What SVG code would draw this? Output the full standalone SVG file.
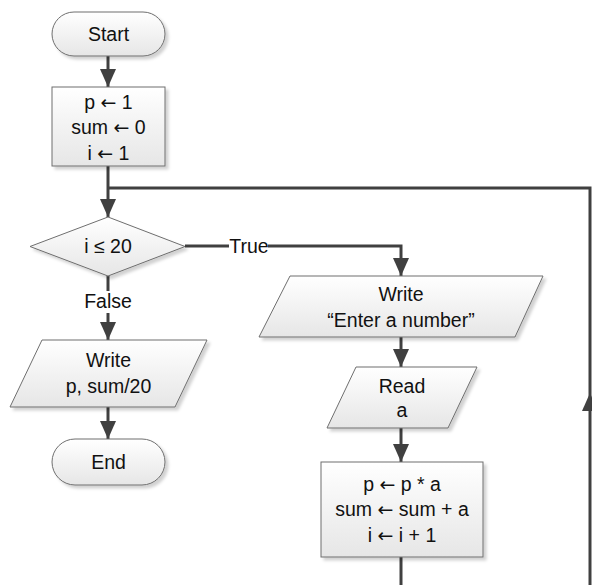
<svg xmlns="http://www.w3.org/2000/svg" width="592" height="585" viewBox="0 0 592 585">
<defs>
<linearGradient id="g" x1="0" y1="0" x2="0" y2="1">
<stop offset="0" stop-color="#ffffff"/>
<stop offset="1" stop-color="#e6e6e6"/>
</linearGradient>
<filter id="sh" x="-10%" y="-10%" width="130%" height="140%">
<feDropShadow dx="3" dy="3" stdDeviation="1.5" flood-color="#000" flood-opacity="0.18"/>
</filter>
<marker id="ah" markerUnits="userSpaceOnUse" markerWidth="18" markerHeight="18" viewBox="0 0 18 16" refX="18" refY="8" orient="auto">
<path d="M0,0 L18,8 L0,16 Z" fill="#404040"/>
</marker>
<style>
.n{fill:url(#g);stroke:#6e6e6e;stroke-width:1;filter:url(#sh)}
.t{font-family:"Liberation Sans",Arial,sans-serif;font-size:19.5px;fill:#111;text-anchor:middle}
.a{font-family:"DejaVu Sans",sans-serif;font-size:19px}
.c{fill:none;stroke:#404040;stroke-width:3}
</style>
</defs>
<g id="connectors">
<line class="c" x1="108" y1="56" x2="108" y2="87" marker-end="url(#ah)"/>
<line class="c" x1="108" y1="166" x2="108" y2="217" marker-end="url(#ah)"/>
<polyline class="c" points="590,393 590,188 108,188"/>
<line class="c" x1="590" y1="585" x2="590" y2="393" marker-end="url(#ah)"/>
<line class="c" x1="185" y1="246" x2="229" y2="246"/>
<polyline class="c" points="268,246 401,246 401,276" marker-end="url(#ah)"/>
<line class="c" x1="108" y1="276" x2="108" y2="291"/>
<line class="c" x1="108" y1="313" x2="108" y2="340" marker-end="url(#ah)"/>
<line class="c" x1="108" y1="407" x2="108" y2="439" marker-end="url(#ah)"/>
<line class="c" x1="401" y1="337" x2="401" y2="367" marker-end="url(#ah)"/>
<line class="c" x1="401" y1="428" x2="401" y2="462" marker-end="url(#ah)"/>
<line class="c" x1="401" y1="557" x2="401" y2="585"/>
<text class="t" x="249" y="253">True</text>
<text class="t" x="108" y="308">False</text>
</g>
<g id="start">
<rect class="n" x="52" y="12" width="113" height="44" rx="22" ry="22"/>
<text class="t" x="108.5" y="41">Start</text>
</g>
<g id="init">
<rect class="n" x="52" y="87" width="113" height="79"/>
<text class="t" x="108.5" y="109">p <tspan class="a">←</tspan> 1</text>
<text class="t" x="108.5" y="134">sum <tspan class="a">←</tspan> 0</text>
<text class="t" x="108.5" y="160">i <tspan class="a">←</tspan> 1</text>
</g>
<g id="decision">
<polygon class="n" points="108,217 185,246.5 108,276 30,246.5"/>
<text class="t" x="108" y="253">i ≤ 20</text>
</g>
<g id="write-result">
<polygon class="n" points="42,340 207,340 175,407 10,407"/>
<text class="t" x="108.5" y="367">Write</text>
<text class="t" x="108.5" y="393">p, sum/20</text>
</g>
<g id="end">
<rect class="n" x="52" y="439" width="113" height="46" rx="23" ry="23"/>
<text class="t" x="108.5" y="469">End</text>
</g>
<g id="write-prompt">
<polygon class="n" points="290,276 543,276 515,337 259,337"/>
<text class="t" x="401" y="301">Write</text>
<text class="t" x="401" y="327">“Enter a number”</text>
</g>
<g id="read">
<polygon class="n" points="356,367 477,367 448,428 327,428"/>
<text class="t" x="402" y="393">Read</text>
<text class="t" x="402" y="417">a</text>
</g>
<g id="update">
<rect class="n" x="321" y="462" width="162" height="95"/>
<text class="t" x="402" y="491">p <tspan class="a">←</tspan> p * a</text>
<text class="t" x="402" y="516">sum <tspan class="a">←</tspan> sum + a</text>
<text class="t" x="402" y="542">i <tspan class="a">←</tspan> i + 1</text>
</g>
</svg>
